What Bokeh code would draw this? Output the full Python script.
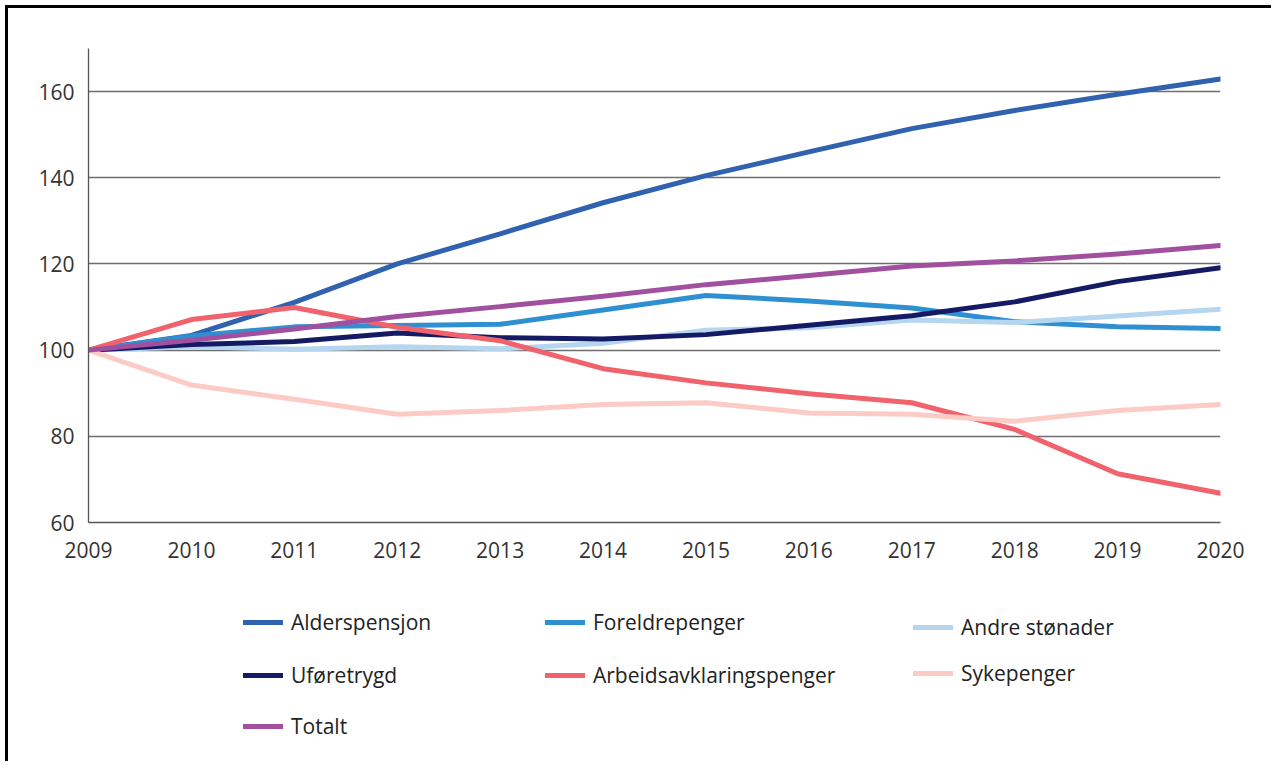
from bokeh.plotting import figure
from bokeh.layouts import column
from bokeh.models import Range1d, FixedTicker, Legend, LegendItem
from bokeh.embed import file_html
from bokeh.resources import INLINE

years = list(range(2009, 2021))
alderspensjon = [100, 103.4, 111.1, 120.0, 127.0, 134.2, 140.5, 146.0, 151.4, 155.6, 159.4, 162.9]
foreldrepenger = [100, 103.3, 105.4, 105.7, 106.0, 109.3, 112.7, 111.4, 109.8, 106.6, 105.4, 105.0]
andre_stonader = [100, 100.8, 100.2, 100.8, 100.3, 101.6, 104.6, 105.2, 107.0, 106.4, 107.9, 109.5]
uforetrygd = [100, 101.3, 102.0, 104.0, 102.9, 102.6, 103.6, 105.8, 108.0, 111.2, 115.9, 119.1]
arbeidsavklaringspenger = [100, 107.1, 109.9, 105.3, 102.2, 95.7, 92.4, 89.9, 87.8, 81.6, 71.3, 66.8]
sykepenger = [100, 91.9, 88.6, 85.1, 86.0, 87.4, 87.8, 85.4, 85.1, 83.5, 86.0, 87.4]
totalt = [100, 102.3, 104.9, 107.8, 110.1, 112.5, 115.2, 117.3, 119.5, 120.7, 122.3, 124.3]

y_ticks = [60, 80, 100, 120, 140, 160]

series = [
    ("Alderspensjon", alderspensjon, "#3162af"),
    ("Foreldrepenger", foreldrepenger, "#2e90d0"),
    ("Andre stønader", andre_stonader, "#b6d5ef"),
    ("Uføretrygd", uforetrygd, "#151a64"),
    ("Arbeidsavklaringspenger", arbeidsavklaringspenger, "#f0636d"),
    ("Sykepenger", sykepenger, "#fdcbc6"),
    ("Totalt", totalt, "#a0509f"),
]

# legend placement in page pixels (glyph left x, row centre y)
legend_pos = {
    "Alderspensjon": (243, 622),
    "Foreldrepenger": (545, 622),
    "Andre stønader": (913, 627),
    "Uføretrygd": (243, 675),
    "Arbeidsavklaringspenger": (545, 675),
    "Sykepenger": (913, 673),
    "Totalt": (243, 726),
}

FONT = "Open Sans"
FS = "21px"
OFF = 8                 # layout offset on the page
W = 1266
H_MAIN = 570
H_LEG = 186
FRAME_LEFT = 80         # frame left inside each figure (frames are aligned)

p = figure(width=W, height=H_MAIN, output_backend="svg", toolbar_location=None,
           x_range=Range1d(2009, 2020), y_range=Range1d(60, 170),
           min_border_left=FRAME_LEFT, min_border_right=W - (1220 - OFF),
           min_border_top=48 - OFF, min_border_bottom=H_MAIN - (522 - OFF))
p.outline_line_color = None
p.xgrid.visible = False
p.ygrid.grid_line_color = "#6e6e6e"
p.ygrid.grid_line_width = 1.3

p.yaxis.ticker = FixedTicker(ticks=y_ticks)
p.xaxis.ticker = FixedTicker(ticks=years)
for ax in (p.xaxis[0], p.yaxis[0]):
    ax.axis_line_color = "#555555"
    ax.axis_line_width = 1.3
    ax.major_tick_line_color = None
    ax.minor_tick_line_color = None
    ax.major_label_text_font = FONT
    ax.major_label_text_font_size = FS
    ax.major_label_text_color = "#333333"
p.xaxis.major_label_standoff = 13
p.yaxis.major_label_standoff = 8

for name, vals, color in series:
    p.line(years, vals, line_color=color, line_width=5,
           line_cap="round", line_join="round")

# legend panel: a second figure holding hidden copies of the series
q = figure(width=W, height=H_LEG, output_backend="svg", toolbar_location=None,
           x_axis_type=None, y_axis_type=None,
           x_range=Range1d(2009, 2020), y_range=Range1d(1000, 1001),
           min_border_left=FRAME_LEFT, min_border_right=W - (1220 - OFF),
           min_border_top=0, min_border_bottom=0)
q.outline_line_color = None
q.grid.visible = False

leg_bottom_page = OFF + H_MAIN + H_LEG
ITEM_H = 30
for name, vals, color in series:
    r = q.line(years, vals, line_color=color, line_width=5, line_cap="round")
    r.visible = False
    gx, gy = legend_pos[name]
    leg = Legend(items=[LegendItem(label=name, renderers=[r])],
                 location=(gx - OFF - FRAME_LEFT, leg_bottom_page - (gy + ITEM_H / 2)),
                 padding=0, margin=0, spacing=0,
                 glyph_width=40, glyph_height=ITEM_H, label_height=ITEM_H,
                 label_standoff=8,
                 label_text_font=FONT, label_text_font_size=FS,
                 label_text_color="#222222",
                 border_line_color=None, background_fill_alpha=0,
                 click_policy="none")
    q.add_layout(leg, "center")

lay = column(p, q, spacing=0)
lay.styles = {"margin-left": "8px", "margin-top": "8px",
              "box-shadow": "-3px -3px 0 0 #000"}

open("out.html", "w").write(file_html(lay, INLINE))
